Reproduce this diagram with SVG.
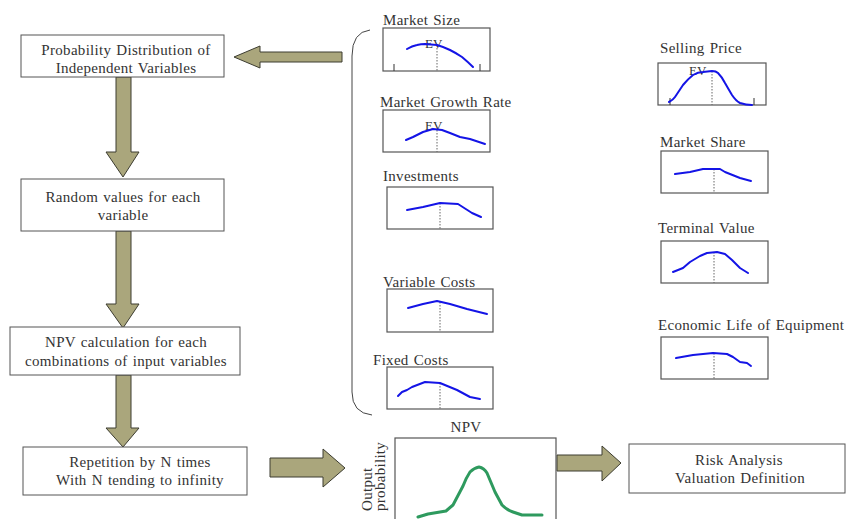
<svg xmlns="http://www.w3.org/2000/svg" width="846" height="519" viewBox="0 0 846 519">
<style>
text{font-family:"Liberation Serif","Times New Roman",serif;font-size:15px;fill:#333;letter-spacing:0.3px;word-spacing:1px}
.c{text-anchor:middle}
.box{fill:#fff;stroke:#555;stroke-width:1}
.cb{fill:#fff;stroke:#555;stroke-width:1.2}
.arr{fill:#aaa67c;stroke:#3c3c30;stroke-width:1}
.blue{fill:none;stroke:#1414e6;stroke-width:2;stroke-linejoin:round;stroke-linecap:round}
.green{fill:none;stroke:#2e9a5e;stroke-width:3;stroke-linejoin:round;stroke-linecap:round}
.dot{stroke:#666;stroke-width:1;stroke-dasharray:1.5,1.5}
.tick{stroke:#333;stroke-width:1}
.ev{font-size:13px;letter-spacing:0}
</style>
<rect width="846" height="519" fill="#fff"/>

<g id="connectors">
  <path class="arr" d="M116 77 H131 V152 H139 L123 177 L106 152 H116 Z"/>
  <path class="arr" d="M116 231 H131 V304 H139 L123 328 L106 304 H116 Z"/>
  <path class="arr" d="M116 375 H131 V428 H139 L123 447 L106 428 H116 Z"/>
  <path class="arr" d="M342 52 V62 H260 V68 L234 57 L260 46 V52 Z"/>
  <path class="arr" d="M270 458 H323 V449 L345 468 L323 487 V477 H270 Z"/>
  <path class="arr" d="M557 455 H602 V446 L621 463 L602 481 V471 H557 Z"/>
  <path d="M370 30 Q352 32 352 56 L352 392 Q352 413 372 415" fill="none" stroke="#444" stroke-width="1"/>
</g>

<g id="node-prob-dist">
  <rect class="box" x="21" y="35" width="203" height="42"/>
  <text class="c" x="126" y="55">Probability Distribution of</text>
  <text class="c" x="126" y="73">Independent Variables</text>
</g>
<g id="node-random">
  <rect class="box" x="21" y="179" width="203" height="52"/>
  <text class="c" x="123" y="202">Random values for each</text>
  <text class="c" x="123" y="220">variable</text>
</g>
<g id="node-npv-calc">
  <rect class="box" x="10" y="327" width="230" height="48"/>
  <text class="c" x="126" y="347">NPV calculation for each</text>
  <text class="c" x="126" y="366">combinations of input variables</text>
</g>
<g id="node-repetition">
  <rect class="box" x="23" y="447" width="224" height="48"/>
  <text class="c" x="140" y="467">Repetition by N times</text>
  <text class="c" x="140" y="485">With N tending to infinity</text>
</g>
<g id="node-risk">
  <rect class="box" x="629" y="444" width="216" height="49"/>
  <text class="c" x="739" y="465">Risk Analysis</text>
  <text class="c" x="740" y="483">Valuation Definition</text>
</g>

<g id="chart-market-size">
  <text x="383" y="25">Market Size</text>
  <rect class="cb" x="383" y="28" width="107" height="43"/>
  <line class="tick" x1="394" y1="64" x2="394" y2="71"/>
  <line class="tick" x1="480" y1="64" x2="480" y2="71"/>
  <line class="dot" x1="437" y1="45" x2="437" y2="71"/>
  <text class="ev" x="425" y="48">EV</text>
  <path class="blue" d="M407 49 Q412 46 417 45 Q421 44 425 44 L437 45 Q444 47 450 50 Q456 53 462 57 Q468 62 473 67"/>
</g>
<g id="chart-market-growth">
  <text x="380" y="107">Market Growth Rate</text>
  <rect class="cb" x="383" y="110" width="107" height="42"/>
  <line class="dot" x1="437" y1="130" x2="437" y2="152"/>
  <text class="ev" x="425" y="130">EV</text>
  <path class="blue" d="M406 140 L413 137 L423 132 L433 129 L442 130 L450 133 L460 137 L470 139 L485 144"/>
</g>
<g id="chart-investments">
  <text x="383" y="181">Investments</text>
  <rect class="cb" x="387" y="187" width="106" height="42"/>
  <line class="dot" x1="440" y1="203" x2="440" y2="229"/>
  <path class="blue" d="M407 210 L423 207 L440 203 L458 204 L472 213 L481 217"/>
</g>
<g id="chart-variable-costs">
  <text x="383" y="287">Variable Costs</text>
  <rect class="cb" x="387" y="289" width="106" height="43"/>
  <line class="dot" x1="440" y1="302" x2="440" y2="332"/>
  <path class="blue" d="M408 308 L423 304 L437 301 L450 304 L467 309 L487 314"/>
</g>
<g id="chart-fixed-costs">
  <text x="373" y="365">Fixed Costs</text>
  <rect class="cb" x="387" y="367" width="106" height="42"/>
  <line class="dot" x1="440" y1="383" x2="440" y2="409"/>
  <path class="blue" d="M398 396 L402 392 L407 390 L412 387 L425 382 L440 383 L457 390 L470 397 L480 399"/>
</g>
<g id="chart-selling-price">
  <text x="660" y="53">Selling Price</text>
  <rect class="cb" x="658" y="63" width="108" height="42"/>
  <line class="tick" x1="670" y1="98" x2="670" y2="105"/>
  <line class="tick" x1="754" y1="98" x2="754" y2="105"/>
  <line class="dot" x1="712" y1="71" x2="712" y2="105"/>
  <text class="ev" x="689" y="75">EV</text>
  <path class="blue" d="M669 102 Q673 100 675 97 Q679 91 683 85 Q688 79 693 75 Q698 72 703 72 L712 71 Q716 71 718 73 Q722 77 725 83 Q729 90 732 95 Q736 101 740 103 Q746 105 752 105"/>
</g>
<g id="chart-market-share">
  <text x="660" y="147">Market Share</text>
  <rect class="cb" x="661" y="151" width="107" height="42"/>
  <line class="dot" x1="714" y1="169" x2="714" y2="193"/>
  <path class="blue" d="M675 174 L690 172 L703 169 L720 169 L725 172 L740 178 L751 181"/>
</g>
<g id="chart-terminal-value">
  <text x="658" y="233">Terminal Value</text>
  <rect class="cb" x="661" y="241" width="107" height="42"/>
  <line class="dot" x1="714" y1="252" x2="714" y2="283"/>
  <path class="blue" d="M673 272 L683 268 L690 262 L700 256 L707 253 L717 252 L725 254 L732 260 L740 268 L748 273"/>
</g>
<g id="chart-economic-life">
  <text x="658" y="330">Economic Life of Equipment</text>
  <rect class="cb" x="661" y="337" width="107" height="42"/>
  <line class="dot" x1="714" y1="353" x2="714" y2="379"/>
  <path class="blue" d="M676 358 L693 355 L713 353 L727 354 L733 357 L740 362 L747 363 L751 366"/>
</g>

<g id="chart-npv">
  <text class="c" x="466" y="432">NPV</text>
  <rect class="cb" x="395" y="438" width="161" height="90"/>
  <text transform="translate(372 511) rotate(-90)">Output</text>
  <text transform="translate(385 511) rotate(-90)">probability</text>
  <path class="green" d="M418 517 L428 514 L446 511 L453 505 L463 486 Q466 478 470 472 Q474 468 479 467 Q484 468 487 473 L495 492 L502 505 Q507 510 513 512 L522 515 L542 515"/>
</g>
</svg>
